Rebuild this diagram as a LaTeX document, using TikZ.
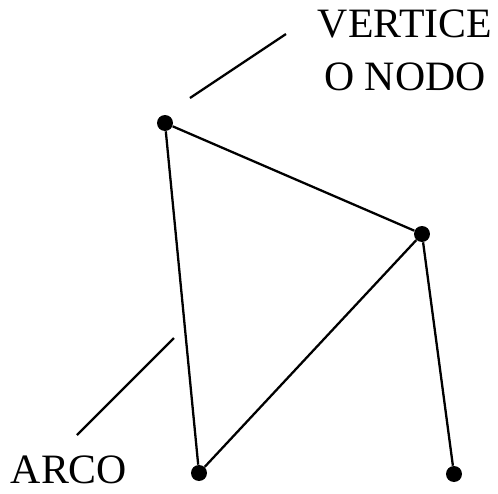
\documentclass[tikz,border=0pt]{standalone}
\usepackage{fontspec}
\setmainfont{Liberation Serif}
\usepackage{tikz}
\usetikzlibrary{positioning}

\begin{document}
\begin{tikzpicture}[x=0.02cm, y=-0.02cm,
            vtx/.style={circle, fill=black, inner sep=0pt, minimum size=0.32cm},
            edg/.style={draw=black, line width=1.3pt},
            lbl/.style={inner sep=0pt, align=center,
                        font=\fontsize{23.8}{30.2}\selectfont}
          ]
          \useasboundingbox (0,0) rectangle (498,494);
          % vertices
          \node[vtx] (a) at (165, 123) {};
          \node[vtx] (b) at (422, 234) {};
          \node[vtx] (c) at (199, 473) {};
          \node[vtx] (d) at (454, 474) {};
          % edges
          \draw[edg] (a)--(b); \draw[edg] (a)--(c);
          \draw[edg] (b)--(c); \draw[edg] (b)--(d);

          % labels and leader lines
          \node[lbl] (vlab) at (405, 50) {VERTICE\\O NODO};
          \coordinate (v1) at (190, 98);
          \coordinate (v2) at (286, 34);
          \draw[edg] (v1)--(v2);

          \node[lbl] (alab) at (69, 470) {ARCO};
          \coordinate (a1) at (77, 435);
          \coordinate (a2) at (174, 338);
          \draw[edg] (a1)--(a2);
        \end{tikzpicture}
\end{document}
